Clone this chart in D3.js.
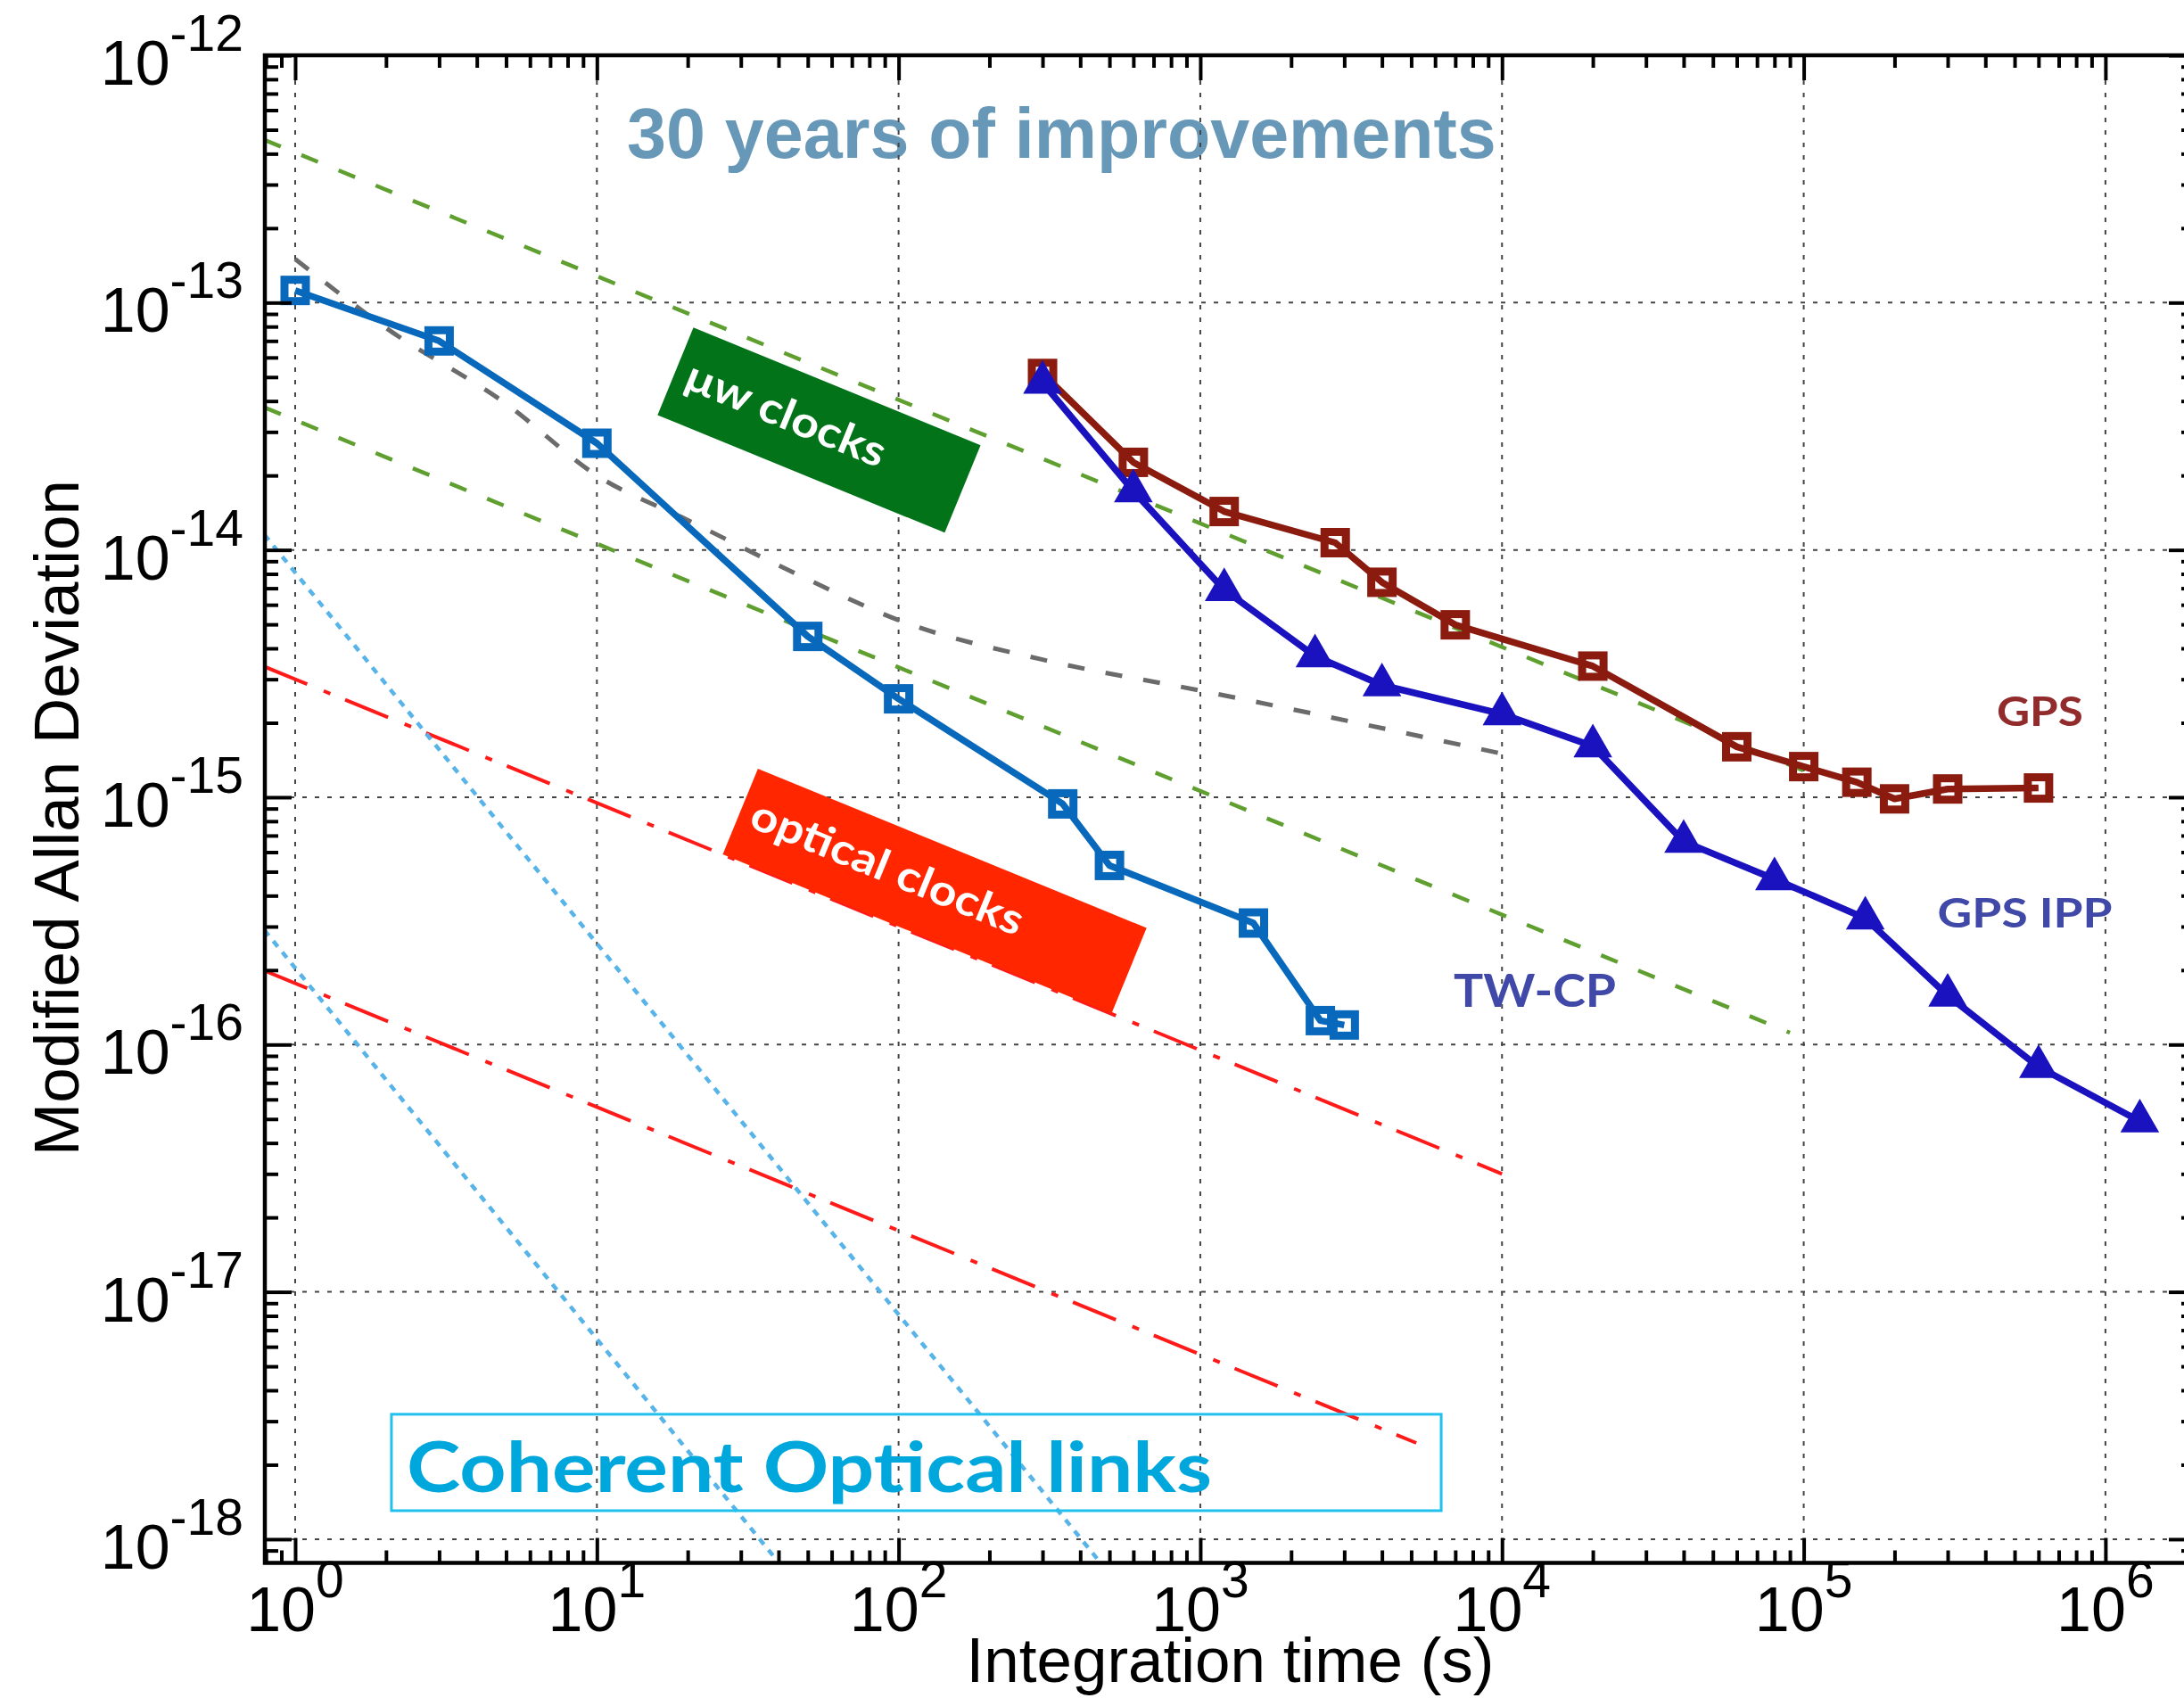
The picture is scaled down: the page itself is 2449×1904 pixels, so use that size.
<!DOCTYPE html>
<html>
<head>
<meta charset="utf-8">
<script src="https://cdn.jsdelivr.net/npm/d3@7/dist/d3.min.js"></script>
<style>
body { margin: 0; background: #fff; }
text { font-family: "Liberation Sans", Arial, Helvetica, sans-serif; }
.tag { font-family: Lato, "Open Sans", sans-serif; font-weight: 700; }
</style>
</head>
<body>
<div id="chart"></div>
<script>
//  Measured series (tau in s, modified Allan deviation)
var twcpTau = [1, 3, 10, 50, 100, 350, 500, 1500, 2500, 3000];
var twcpDev = [1.12e-13, 7.0e-14, 2.7e-14, 4.47e-15, 2.5e-15, 9.4e-16, 5.3e-16, 3.1e-16, 1.25e-16, 1.2e-16];

var gpsTau = [300, 600, 1200, 2800, 4000, 7000, 2e4, 6e4, 1e5, 1.5e5, 2e5, 3e5, 6e5];
var gpsDev = [5.17e-14, 2.26e-14, 1.43e-14, 1.07e-14, 7.4e-15, 4.98e-15, 3.39e-15, 1.6e-15, 1.33e-15, 1.15e-15, 9.85e-16, 1.08e-15, 1.09e-15];

var ippTau = [300, 600, 1200, 2400, 4000, 1e4, 2e4, 4e4, 8e4, 1.6e5, 3e5, 6e5, 1.3e6];
var ippDev = [4.75e-14, 1.73e-14, 6.9e-15, 3.72e-15, 2.84e-15, 2.17e-15, 1.61e-15, 6.62e-16, 4.67e-16, 3.24e-16, 1.58e-16, 8.13e-17, 4.9e-17];

//  Reference curves
var grayTau = [1, 2, 5, 10, 20, 50, 100, 300, 1000, 1e4];
var grayDev = [1.5e-13, 7.9e-14, 3.9e-14, 2.0e-14, 1.32e-14, 7.6e-15, 5.2e-15, 3.6e-15, 2.7e-15, 1.5e-15];

var greenTopTau = [0.79, 1e5];
var greenTopDev = [4.55e-13, 1.28e-15];
var greenLowTau = [0.79, 9e4];
var greenLowDev = [3.77e-14, 1.117e-16];

var redTopTau = [0.79, 1e4];
var redTopDev = [3.375e-15, 3.0e-17];
var redLowTau = [0.79, 5200];
var redLowDev = [1.99e-16, 2.45e-18];

var cyanTopTau = [0.79, 480];
var cyanTopDev = [1.154e-14, 7.7e-19];
var cyanLowTau = [0.79, 40];
var cyanLowDev = [2.905e-16, 8.06e-19];

var xTickExp = [0, 1, 2, 3, 4, 5, 6];
var yTickExp = [-12, -13, -14, -15, -16, -17, -18];

var width = 2449, height = 1904;
var plotL = 297, plotT = 62, plotR = 2460, plotB = 1752.5;

var x = d3.scaleLog().domain([0.7935, 1.963e6]).range([plotL, plotR]);
var y = d3.scaleLog().domain([8.02e-19, 1e-12]).range([plotB, plotT]);

function zip(a, b) { return a.map(function(d, i) { return [d, b[i]]; }); }

var svg = d3.select("#chart").append("svg")
	.attr("width", width).attr("height", height)
	.style("display", "block");

svg.append("rect").attr("width", width).attr("height", height).attr("fill", "#fff");

svg.append("defs").append("clipPath").attr("id", "plot")
	.append("rect").attr("x", plotL).attr("y", plotT)
	.attr("width", plotR - plotL).attr("height", plotB - plotT);

//  title inside the plot (grid runs over it)
svg.append("text")
	.attr("x", x(12.58)).attr("y", y(3.85e-13))
	.attr("fill", "#6798b8").style("font-size", "79px").style("font-weight", "bold")
	.text("30 years of improvements");

//  Grid
var grid = svg.append("g").attr("stroke", "#444").attr("stroke-width", 2)
	.attr("stroke-dasharray", "5,9");
grid.selectAll("line.gx").data(xTickExp).enter().append("line")
	.attr("x1", function(e) { return x(Math.pow(10, e)); })
	.attr("x2", function(e) { return x(Math.pow(10, e)); })
	.attr("y1", plotT).attr("y2", plotB);
grid.selectAll("line.gy").data(yTickExp).enter().append("line")
	.attr("y1", function(e) { return y(Math.pow(10, e)); })
	.attr("y2", function(e) { return y(Math.pow(10, e)); })
	.attr("x1", plotL).attr("x2", plotR);

var plot = svg.append("g").attr("clip-path", "url(#plot)");

var line = d3.line().x(function(d) { return x(d[0]); }).y(function(d) { return y(d[1]); });
var curve = d3.line().curve(d3.curveMonotoneX)
	.x(function(d) { return x(d[0]); }).y(function(d) { return y(d[1]); });

function refLine(data, color, dash, w, gen) {
	plot.append("path").datum(data).attr("d", gen || line)
		.attr("fill", "none").attr("stroke", color).attr("stroke-width", w)
		.attr("stroke-dasharray", dash);
}

refLine(zip(greenTopTau, greenTopDev), "#5f9f2f", "20,25", 4.5);
refLine(zip(greenLowTau, greenLowDev), "#5f9f2f", "20,25", 4.5);
refLine(zip(grayTau, grayDev), "#6b6b6b", "19,24", 5, curve);
refLine(zip(redTopTau, redTopDev), "#ff1a1a", "52,20,8,18", 4);
refLine(zip(redLowTau, redLowDev), "#ff1a1a", "52,20,8,18", 4);
refLine(zip(cyanTopTau, cyanTopDev), "#58b4e8", "8,8", 4.5);
refLine(zip(cyanLowTau, cyanLowDev), "#58b4e8", "8,8", 4.5);

//  rotated tags follow a tau^-1/2 slope
var angle = Math.atan2(y(1e-16) - y(1e-15), x(100) - x(1)) * 180 / Math.PI;

function tag(cx, cy, w, h, fill, label, tx, ty, tlen, fs) {
	var g = svg.append("g")
		.attr("transform", "translate(" + x(cx) + "," + y(cy) + ")rotate(" + angle + ")");
	g.append("rect").attr("x", -w / 2).attr("y", -h / 2).attr("width", w).attr("height", h)
		.attr("fill", fill);
	g.append("text").attr("class", "tag").attr("x", tx).attr("y", ty)
		.attr("textLength", tlen).attr("lengthAdjust", "spacingAndGlyphs")
		.attr("fill", "#fff").style("font-size", fs + "px").text(label);
}

tag(54.5, 3.05e-14, 348, 106, "#037319", "\u03bcw clocks", -160, 14, 238, 48);
tag(131.7, 4.17e-16, 471, 104, "#ff2600", "optical clocks", -222, 12, 326, 48);

//  Coherent optical links box
svg.append("rect")
	.attr("x", x(2.085)).attr("y", y(3.2e-18))
	.attr("width", x(6286) - x(2.085)).attr("height", y(1.304e-18) - y(3.2e-18))
	.attr("fill", "none").attr("stroke", "#22c0ec").attr("stroke-width", 3);
svg.append("text").attr("class", "tag")
	.attr("x", x(2.342)).attr("y", y(1.553e-18))
	.attr("textLength", 903).attr("lengthAdjust", "spacingAndGlyphs")
	.attr("fill", "#00a7dc").style("font-size", "78px")
	.text("Coherent Optical links");

//  Measured series
function series(tau, dev, color, marker) {
	var data = zip(tau, dev);
	var g = plot.append("g");
	g.append("path").datum(data).attr("d", line)
		.attr("fill", "none").attr("stroke", color).attr("stroke-width", 7.5)
		.attr("stroke-linejoin", "round");
	if (marker === "square") {
		g.selectAll("rect").data(data).enter().append("rect")
			.attr("x", function(d) { return x(d[0]) - 12; })
			.attr("y", function(d) { return y(d[1]) - 12; })
			.attr("width", 24).attr("height", 24)
			.attr("fill", "none").attr("stroke", color).attr("stroke-width", 9);
	} else {
		g.selectAll("path.m").data(data).enter().append("path").attr("class", "m")
			.attr("d", d3.symbol(d3.symbolTriangle, 820))
			.attr("transform", function(d) { return "translate(" + x(d[0]) + "," + y(d[1]) + ")"; })
			.attr("fill", color);
	}
}

series(twcpTau, twcpDev, "#0868bb", "square");
series(gpsTau, gpsDev, "#8b1a0f", "square");
series(ippTau, ippDev, "#1a12bf", "triangle");

//  series labels
function label(tx, ty, txt, color, fs, len) {
	svg.append("text").attr("class", "tag").attr("x", x(tx)).attr("y", y(ty))
		.attr("textLength", len).attr("lengthAdjust", "spacingAndGlyphs")
		.attr("fill", color).style("font-size", fs + "px").text(txt);
}
label(4.36e5, 1.94e-15, "GPS", "#922b2b", 46, 97);
label(2.776e5, 2.975e-16, "GPS IPP", "#4048a8", 46, 196);
label(6917, 1.42e-16, "TW-CP", "#4048a8", 51, 182);

//  Frame and ticks (inward, all four sides)
var minorX = [], minorY = [];
d3.range(-1, 7).forEach(function(e) {
	d3.range(2, 10).forEach(function(m) {
		var v = m * Math.pow(10, e);
		if (v > x.domain()[0] && v < x.domain()[1]) minorX.push(v);
	});
});
d3.range(-19, -12).forEach(function(e) {
	d3.range(2, 10).forEach(function(m) {
		var v = m * Math.pow(10, e);
		if (v > y.domain()[0] && v < y.domain()[1]) minorY.push(v);
	});
});
var majorX = xTickExp.map(function(e) { return Math.pow(10, e); });
var majorY = yTickExp.map(function(e) { return Math.pow(10, e); });

function ticks(axis, vals, len, tx, ty) {
	svg.append("g").attr("transform", "translate(" + tx + "," + ty + ")")
		.call(axis.tickValues(vals).tickSize(len).tickFormat(""))
		.call(function(g) {
			g.select(".domain").remove();
			g.selectAll(".tick line").attr("stroke", "#000").attr("stroke-width", 4);
		});
}

ticks(d3.axisBottom(x), majorX, -28, 0, plotB);
ticks(d3.axisBottom(x), minorX, -14, 0, plotB);
ticks(d3.axisTop(x), majorX, -28, 0, plotT);
ticks(d3.axisTop(x), minorX, -14, 0, plotT);
ticks(d3.axisLeft(y), majorY, -30, plotL, 0);
ticks(d3.axisLeft(y), minorY, -15, plotL, 0);
ticks(d3.axisRight(y), majorY, -28, plotR, 0);
ticks(d3.axisRight(y), minorY, -14, plotR, 0);

svg.append("rect").attr("x", plotL).attr("y", plotT)
	.attr("width", plotR - plotL).attr("height", plotB - plotT)
	.attr("fill", "none").attr("stroke", "#000").attr("stroke-width", 4.5);

//  Tick labels with superscript exponents
svg.selectAll("text.ylab").data(yTickExp).enter().append("text").attr("class", "ylab")
	.attr("x", plotL - 24)
	.attr("y", function(e) { return y(Math.pow(10, e)) + 33; })
	.attr("text-anchor", "end").style("font-size", "70px")
	.each(function(e) {
		var t = d3.select(this);
		t.append("tspan").text("10");
		t.append("tspan").attr("dy", -38).style("font-size", "57px").text(e);
	});

svg.selectAll("text.xlab").data(xTickExp).enter().append("text").attr("class", "xlab")
	.attr("x", function(e) { return x(Math.pow(10, e)); })
	.attr("y", plotB + 76)
	.attr("text-anchor", "middle").style("font-size", "70px")
	.each(function(e) {
		var t = d3.select(this);
		t.append("tspan").text("10");
		t.append("tspan").attr("dy", -38).style("font-size", "57px").text(e);
	});

//  Axis titles
svg.append("text").attr("x", 1379.5).attr("y", 1886)
	.attr("text-anchor", "middle").style("font-size", "71px")
	.text("Integration time (s)");

svg.append("text").attr("transform", "translate(88,917)rotate(-90)")
	.attr("text-anchor", "middle").style("font-size", "71px")
	.text("Modified Allan Deviation");
</script>
</body>
</html>
